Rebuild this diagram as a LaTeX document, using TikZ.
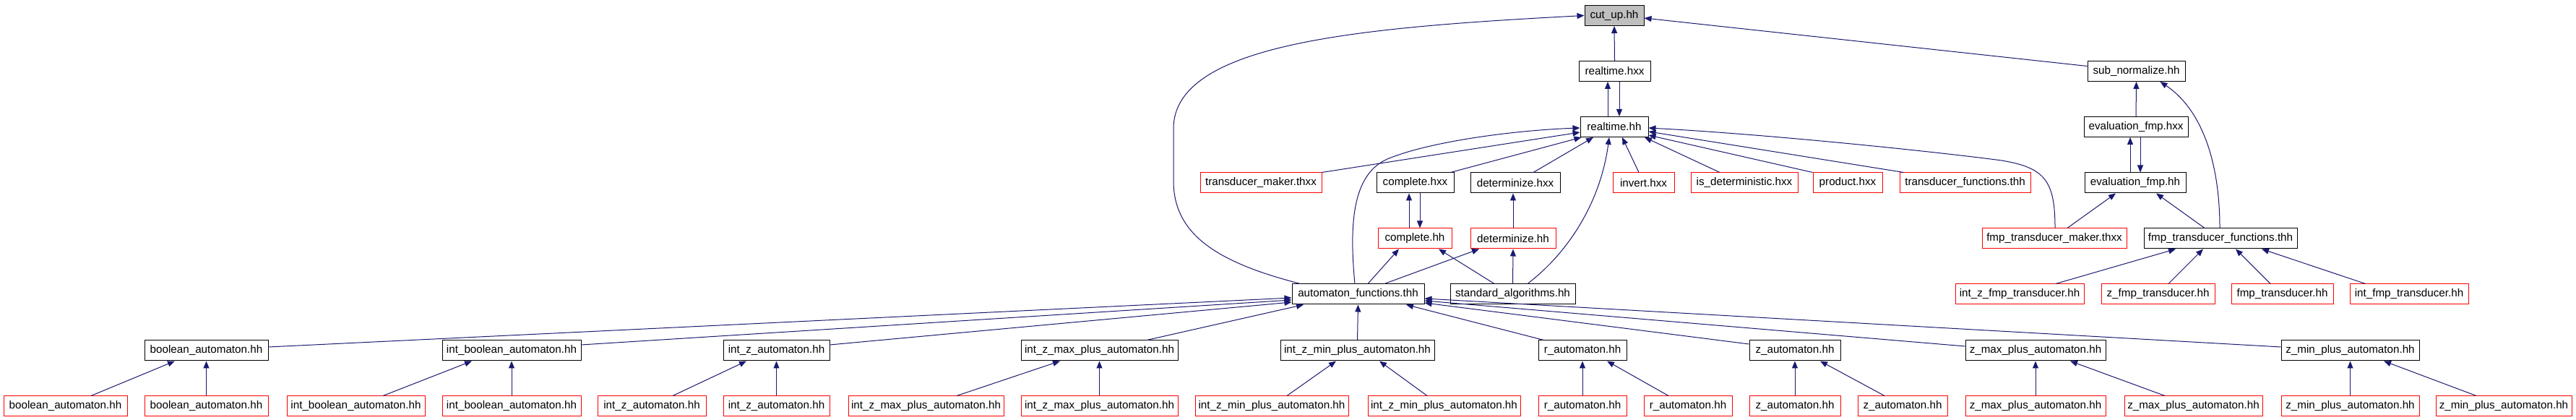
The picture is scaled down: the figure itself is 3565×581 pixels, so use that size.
\documentclass[tikz,border=0pt]{standalone}
\usepackage{fontspec}
\setmainfont{Liberation Sans}
\usetikzlibrary{arrows.meta,calc}
\definecolor{edgec}{HTML}{191970}
\definecolor{redc}{HTML}{FF0000}
\definecolor{grayc}{HTML}{BFBFBF}
\tikzset{
  box/.style={draw=black, line width=0.5pt, inner sep=0pt, minimum height=14pt,
    font=\fontsize{7.6pt}{9pt}\selectfont, text=black},
  rbox/.style={box, draw=redc},
  gbox/.style={box, fill=grayc},
  edge/.style={draw=edgec, line width=0.5pt, -{Triangle[length=5pt,width=4pt]}},
}
\newcommand\bx[6]{\node[#6, minimum width={(#3-#2)*0.5pt}] (#1) at ({(#2+#3)/2},#4) {#5};}
\begin{document}
\begin{tikzpicture}[x=0.5pt,y=-0.5pt]
\useasboundingbox (0,0) rectangle (3565,581);
% row 0-2
\bx{cut}{2193}{2275}{21.5}{cut\_up.hh}{gbox}
\bx{rtx}{2185}{2284}{98.5}{realtime.hxx}{box}
\bx{subn}{2889}{3024}{98.5}{sub\_normalize.hh}{box}
\bx{rth}{2187}{2281}{175.5}{realtime.hh}{box}
\bx{efx}{2884}{3028}{175.5}{evaluation\_fmp.hxx}{box}
% row 3
\bx{tmk}{1661}{1829}{253}{transducer\_maker.thxx}{rbox}
\bx{cpx}{1905}{2012}{253}{complete.hxx}{box}
\bx{dtx}{2035}{2159}{253}{determinize.hxx}{box}
\bx{inv}{2232}{2317}{253}{invert.hxx}{rbox}
\bx{isd}{2340}{2488}{253}{is\_deterministic.hxx}{rbox}
\bx{prd}{2509}{2605}{253}{product.hxx}{rbox}
\bx{tfn}{2629}{2810}{253}{transducer\_functions.thh}{rbox}
\bx{efh}{2885}{3025}{253}{evaluation\_fmp.hh}{box}
% row 4
\bx{cph}{1907}{2009}{330}{complete.hh}{rbox}
\bx{dth}{2035}{2153}{330}{determinize.hh}{rbox}
\bx{fmk}{2743}{2943}{330}{fmp\_transducer\_maker.thxx}{rbox}
\bx{ffn}{2967}{3179}{330}{fmp\_transducer\_functions.thh}{box}
% row 5
\bx{afn}{1788}{1971}{407}{automaton\_functions.thh}{box}
\bx{sta}{2007}{2180}{407}{standard\_algorithms.hh}{box}
\bx{izf}{2706}{2884}{407}{int\_z\_fmp\_transducer.hh}{rbox}
\bx{zf}{2908}{3065}{407}{z\_fmp\_transducer.hh}{rbox}
\bx{ft}{3088}{3229}{407}{fmp\_transducer.hh}{rbox}
\bx{ift}{3252}{3416}{407}{int\_fmp\_transducer.hh}{rbox}
% row 6
\bx{ba}{200}{371}{485}{boolean\_automaton.hh}{box}
\bx{iba}{612}{804}{485}{int\_boolean\_automaton.hh}{box}
\bx{iz}{1001}{1148}{485}{int\_z\_automaton.hh}{box}
\bx{izx}{1413}{1630}{485}{int\_z\_max\_plus\_automaton.hh}{box}
\bx{izn}{1772}{1985}{485}{int\_z\_min\_plus\_automaton.hh}{box}
\bx{ra}{2129}{2251}{485}{r\_automaton.hh}{box}
\bx{za}{2421}{2547}{485}{z\_automaton.hh}{box}
\bx{zx}{2720}{2914}{485}{z\_max\_plus\_automaton.hh}{box}
\bx{zn}{3157}{3348}{485}{z\_min\_plus\_automaton.hh}{box}
% row 7
\bx{ba1}{5}{176}{562}{boolean\_automaton.hh}{rbox}
\bx{ba2}{200}{371}{562}{boolean\_automaton.hh}{rbox}
\bx{iba1}{397}{588}{562}{int\_boolean\_automaton.hh}{rbox}
\bx{iba2}{612}{804}{562}{int\_boolean\_automaton.hh}{rbox}
\bx{iz1}{827}{977}{562}{int\_z\_automaton.hh}{rbox}
\bx{iz2}{1001}{1148}{562}{int\_z\_automaton.hh}{rbox}
\bx{izx1}{1174}{1389}{562}{int\_z\_max\_plus\_automaton.hh}{rbox}
\bx{izx2}{1413}{1630}{562}{int\_z\_max\_plus\_automaton.hh}{rbox}
\bx{izn1}{1654}{1866}{562}{int\_z\_min\_plus\_automaton.hh}{rbox}
\bx{izn2}{1893}{2104}{562}{int\_z\_min\_plus\_automaton.hh}{rbox}
\bx{ra1}{2129}{2251}{562}{r\_automaton.hh}{rbox}
\bx{ra2}{2275}{2397}{562}{r\_automaton.hh}{rbox}
\bx{za1}{2421}{2547}{562}{z\_automaton.hh}{rbox}
\bx{za2}{2571}{2695}{562}{z\_automaton.hh}{rbox}
\bx{zx1}{2720}{2914}{562}{z\_max\_plus\_automaton.hh}{rbox}
\bx{zx2}{2940}{3131}{562}{z\_max\_plus\_automaton.hh}{rbox}
\bx{zn1}{3157}{3348}{562}{z\_min\_plus\_automaton.hh}{rbox}
\bx{zn2}{3371}{3559}{562}{z\_min\_plus\_automaton.hh}{rbox}
% waypoints
\coordinate (bc1) at (1624,250);
\coordinate (bc2) at (1624,178);
\coordinate (aw) at (1920,220);
\coordinate (fw) at (2770,222);
% top edges
\draw[edge] (rtx.north) -- (cut.south);
\draw[edge] ($(subn.west)+(0,-7)$) -- ($(cut.east)+(0,3.5)$);
\draw[edge] ($(afn.north west)+(12,0)$) .. controls (1680,362) and (1624,322) .. (bc1) -- (bc2) .. controls (1624,60) and (1880,38) .. (cut.west);
\draw[edge] ($(rth.north)+(-9,0)$) -- ($(rtx.south)+(-9.5,0)$);
\draw[edge] ($(rtx.south)+(6.5,0)$) -- ($(rth.north)+(7,0)$);
% into realtime.hh
\draw[edge] ($(afn.north)+(-4.5,0)$) .. controls (1866,300) and (1875,240) .. (aw) .. controls (1980,195) and (2100,180) .. ($(rth.west)+(0,1.5)$);
\draw[edge] (tmk.north east) -- ($(rth.west)+(0,7.5)$);
\draw[edge] ($(cpx.north east)+(-5,0)$) -- ($(rth.south west)+(2,0)$);
\draw[edge] ($(dtx.north)+(25,0)$) -- ($(rth.south)+(-29,0)$);
\draw[edge] ($(sta.north)+(20.5,0)$) .. controls (2170,350) and (2215,280) .. ($(rth.south)+(-7,0)$);
\draw[edge] ($(inv.north)+(-6.5,0)$) -- ($(rth.south)+(11,0)$);
\draw[edge] ($(isd.north)+(-34,0)$) -- ($(rth.south)+(42,0)$);
\draw[edge] (prd.north west) -- ($(rth.east)+(0,11.5)$);
\draw[edge] ($(tfn.north west)+(6,0)$) -- ($(rth.east)+(0,6.5)$);
\draw[edge] ($(fmk.north)+(1,0)$) .. controls (2844,250) and (2830,232) .. (fw) .. controls (2680,210) and (2450,186) .. ($(rth.east)+(0,1.5)$);
% complete / determinize
\draw[edge] ($(cph.north)+(-8,0)$) -- ($(cpx.south)+(-8.5,0)$);
\draw[edge] ($(cpx.south)+(6.5,0)$) -- ($(cph.north)+(7,0)$);
\draw[edge] (dth.north) -- ($(dtx.south)+(-3,0)$);
\draw[edge] ($(afn.north)+(13.5,0)$) -- ($(cph.south)+(-22,0)$);
\draw[edge] ($(afn.north)+(36.5,0)$) -- ($(dth.south)+(-47,0)$);
\draw[edge] ($(sta.north)+(-25.5,0)$) -- ($(cph.south)+(33,0)$);
\draw[edge] (sta.north) -- (dth.south);
% fmp side
\draw[edge] (efx.north) -- (subn.south);
\draw[edge] ($(ffn.north)+(-1,0)$) .. controls (3072,220) and (3045,150) .. ($(subn.south)+(33,0)$);
\draw[edge] ($(efh.north)+(-7,0)$) -- ($(efx.south)+(-8,0)$);
\draw[edge] ($(efx.south)+(6,0)$) -- ($(efh.north)+(7,0)$);
\draw[edge] ($(fmk.north)+(18,0)$) -- ($(efh.south)+(-27,0)$);
\draw[edge] ($(ffn.north)+(-22,0)$) -- ($(efh.south)+(29,0)$);
\draw[edge] ($(izf.north)+(50,0)$) -- ($(ffn.south)+(-62,0)$);
\draw[edge] ($(zf.north)+(14.5,0)$) -- ($(ffn.south)+(-24,0)$);
\draw[edge] ($(ft.north)+(-16.5,0)$) -- ($(ffn.south)+(21,0)$);
\draw[edge] ($(ift.north west)+(22,0)$) -- ($(ffn.south)+(57,0)$);
% row 6 to automaton_functions
\draw[edge] ($(ba.east)+(0,-5)$) -- ($(afn.west)+(0,5)$);
\draw[edge] ($(iba.east)+(0,-8)$) -- ($(afn.west)+(0,8)$);
\draw[edge] ($(iz.east)+(0,-8)$) -- ($(afn.west)+(0,11)$);
\draw[edge] ($(izx.north)+(65.5,0)$) -- ($(afn.south)+(-75.5,0)$);
\draw[edge] (izn.north) -- (afn.south);
\draw[edge] ($(ra.north west)+(8,0)$) -- ($(afn.south)+(66.5,0)$);
\draw[edge] ($(za.west)+(0,-9)$) -- ($(afn.east)+(0,12)$);
\draw[edge] ($(zx.west)+(0,-6)$) -- ($(afn.east)+(0,9)$);
\draw[edge] ($(zn.west)+(0,-5)$) -- ($(afn.east)+(0,6)$);
% row 7 to row 6
\draw[edge] ($(ba1.north)+(35.5,0)$) -- ($(ba.south)+(-43.5,0)$);
\draw[edge] (ba2.north) -- (ba.south);
\draw[edge] ($(iba1.north)+(37.5,0)$) -- ($(iba.south)+(-55,0)$);
\draw[edge] (iba2.north) -- (iba.south);
\draw[edge] ($(iz1.north)+(29,0)$) -- ($(iz.south)+(-41.5,0)$);
\draw[edge] (iz2.north) -- (iz.south);
\draw[edge] ($(izx1.north)+(42.5,0)$) -- ($(izx.south)+(-54.5,0)$);
\draw[edge] (izx2.north) -- (izx.south);
\draw[edge] ($(izn1.north)+(21,0)$) -- ($(izn.south)+(-29.5,0)$);
\draw[edge] ($(izn2.north)+(-23.5,0)$) -- ($(izn.south)+(30.5,0)$);
\draw[edge] (ra1.north) -- (ra.south);
\draw[edge] ($(ra2.north)+(-27,0)$) -- ($(ra.south)+(34,0)$);
\draw[edge] (za1.north) -- (za.south);
\draw[edge] ($(za2.north)+(-25,0)$) -- ($(za.south)+(35,0)$);
\draw[edge] (zx1.north) -- (zx.south);
\draw[edge] ($(zx2.north)+(-39.5,0)$) -- ($(zx.south)+(48,0)$);
\draw[edge] (zn1.north) -- (zn.south);
\draw[edge] ($(zn2.north)+(-38,0)$) -- ($(zn.south)+(46.5,0)$);
\end{tikzpicture}
\end{document}
